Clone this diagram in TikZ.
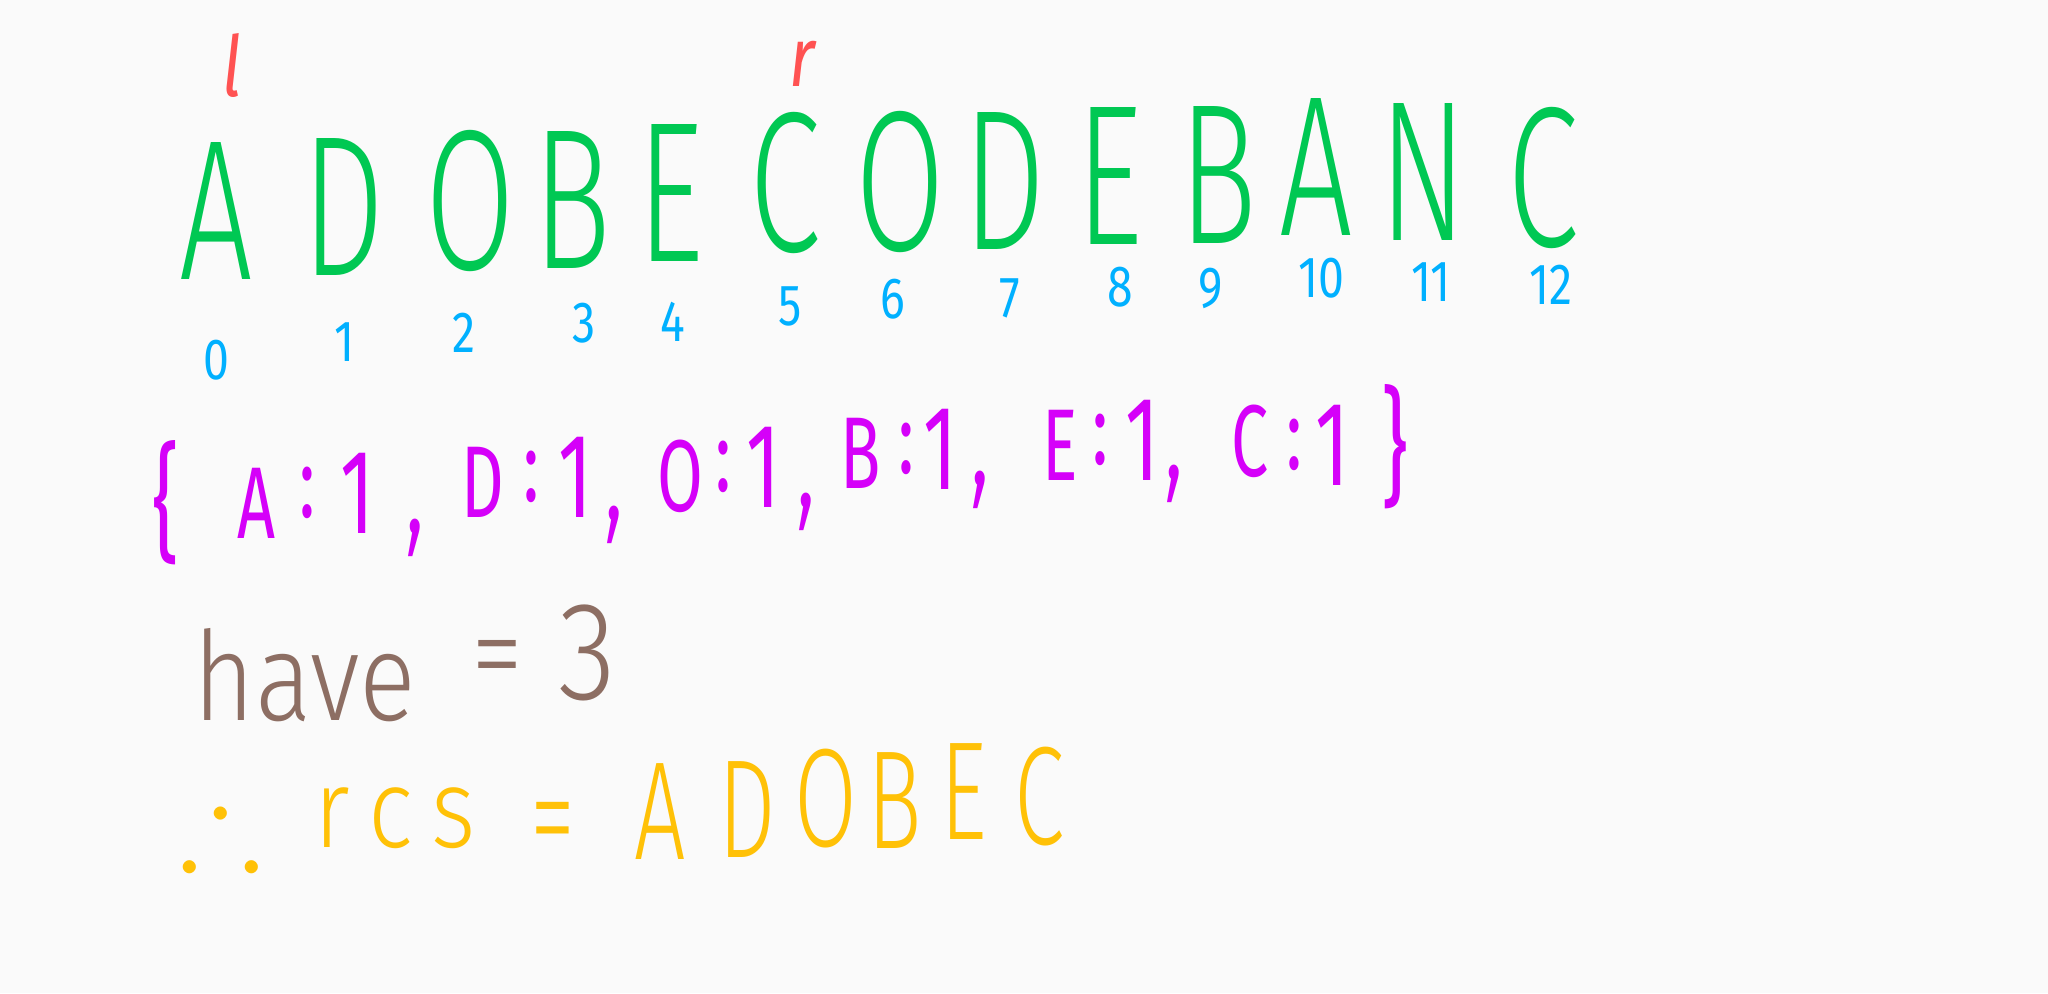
\documentclass[tikz,border=0pt]{standalone}
\usepackage{fontspec}
\usepackage{amssymb}
\setmainfont{Fira Sans Light}[FakeStretch=0.65]
\newfontfamily\handw{Fira Sans Light}[FakeStretch=0.85]
\newfontfamily\handm{Fira Sans}[FakeStretch=0.65]
\newfontfamily\handb{Fira Sans}[ItalicFont={Fira Sans Italic},FakeStretch=0.8]
\usepackage{tikz}
\definecolor{paper}{RGB}{250,250,250}
\definecolor{hgreen}{RGB}{0,200,83}
\definecolor{hblue}{RGB}{0,176,255}
\definecolor{hred}{RGB}{255,82,82}
\definecolor{hpink}{RGB}{213,0,249}
\definecolor{hbrown}{RGB}{141,110,99}
\definecolor{hamber}{RGB}{255,193,7}

\begin{document}
\begin{tikzpicture}[x=0.5pt,y=-0.5pt,every node/.style={inner sep=0pt},
  letter/.style={text=hgreen,font=\fontsize{100}{100}\selectfont},
  idx/.style={text=hblue,font=\fontsize{29}{29}\handb},
  ptr/.style={text=hred,font=\fontsize{42}{42}\handb\itshape},
  dict/.style={text=hpink,font=\fontsize{51}{51}\handm},
  note/.style={text=hbrown,font=\fontsize{62}{62}\handw},
  ans/.style={text=hamber,font=\fontsize{70}{70}\selectfont}]
\fill[paper] (0,0) rectangle (2048,993);
% the string and its indices
\foreach \ch/\x/\y [count=\i from 0] in {A/216/211,D/344/207,O/470/201,
  B/572/200,E/671/193,C/785/183,O/900/182,D/1005/181,E/1110/176,
  B/1218/175,A/1316/167,N/1423/172,C/1543/178}
  {\node[letter] (s\i) at (\x,\y) {\ch};}
\foreach \x/\y [count=\i from 0] in {216/360,345/342,464/333,584/323,
  673/322,790/306,893/299,1010/298,1120/287,1211/288,1321/278,
  1431/282,1551/285}
  {\node[idx] (n\i) at (\x,\y) {\i};}
\node[ptr] (l) at (232,65) {l};
\node[ptr] (r) at (802,64) {r};
% window counts
\node[dict,font=\fontsize{64}{64}\handm] (lb) at (166,503) {\{};
\foreach \k/\x/\y/\cx/\ox/\oy [count=\i] in {A/256/503/307/357/493,
  D/483/482/531/575/477,O/680/476/723/763/467,B/861/453/906/940/449,
  E/1060/445/1100/1142/440,C/1250/441/1294/1332/445}
  {\node[dict] (k\i) at (\x,\y) {\k};
   \node[dict] (co\i) at (\cx,\oy) {:};
   \node[dict,font=\fontsize{60}{60}\handm] (one\i) at (\ox,\oy) {1};}
\node[dict,font=\fontsize{64}{64}\handm] (rb) at (1395,447) {\}};
\foreach \x/\y [count=\i] in {415/538,614/525,806/512,980/490,1174/484}
  {\node[dict,font=\fontsize{80}{80}\selectfont] (cm\i) at (\x,\y) {,};}
\node[note] (have) at (305,675) {have};
\node[note] (eq1) at (497,668) {=};
\node[note,font=\fontsize{70}{70}\handw] (three) at (587,653) {3};
% result
\node[ans,font=\fontsize{62}{62}\selectfont] (so) at (221,822) {$\therefore$};
\node[ans,font=\fontsize{56}{56}\handw] (res) at (395,818) {r\,c\,s};
\node[ans] (eq2) at (553,833) {=};
\foreach \ch/\x/\y [count=\i] in {A/660/812,D/747/810,O/826/799,B/895/801,
  E/964/792,C/1040/797}
  {\node[ans] (w\i) at (\x,\y) {\ch};}
\end{tikzpicture}
\end{document}
